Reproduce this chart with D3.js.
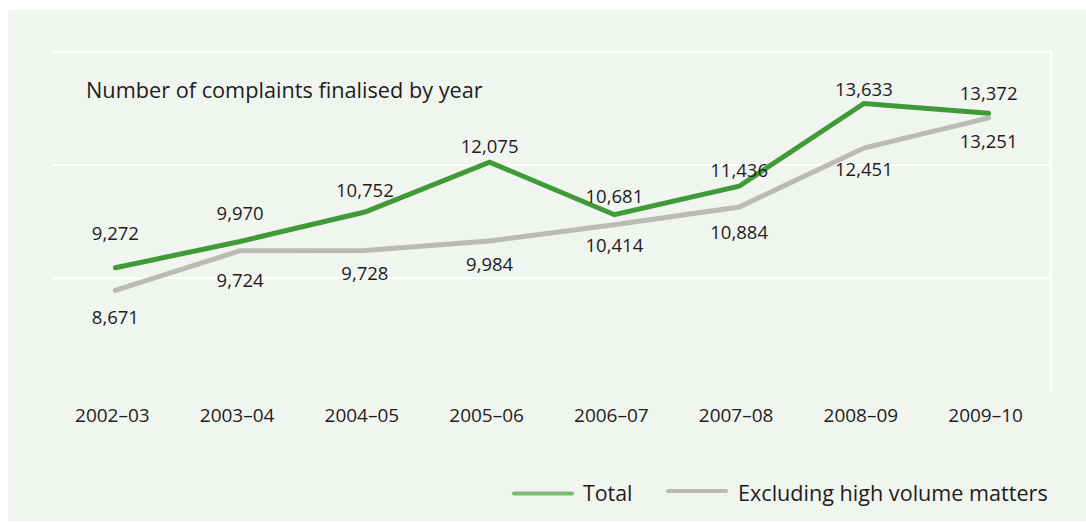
<!DOCTYPE html>
<html><head><meta charset="utf-8">
<script src="https://cdn.jsdelivr.net/npm/d3@7"></script>
<style>
html,body{margin:0;padding:0;background:#fff;}
svg{display:block;}
text{font-family:"Open Sans","Noto Sans",sans-serif;fill:#1f1c1d;}
</style></head>
<body>
<svg id="chart" width="1086" height="522"></svg>
<script>
const categories = ["2002–03","2003–04","2004–05","2005–06","2006–07","2007–08","2008–09","2009–10"];
const totalValues = [9272, 9970, 10752, 12075, 10681, 11436, 13633, 13372];
const excludingValues = [8671, 9724, 9728, 9984, 10414, 10884, 12451, 13251];
const yTicks = [6000, 9000, 12000, 15000];
const seriesNames = ["Total", "Excluding high volume matters"];
const chartTitle = "Number of complaints finalised by year";

// layout (label baselines relative to points, px)
const totalLabelDy = [-28, -21.5, -15.5, -9.5, -12, -9, -7.5, -13];
const exclLabelDy = [34, 36.5, 29, 30.5, 27, 31.5, 27.5, 30.5];

const svg = d3.select("#chart");
const W = 1086, H = 522;
const m = {left:53, right:1051, top:52, bottom:391};

svg.append("rect").attr("x",8).attr("y",10).attr("width",W-8).attr("height",H-11).attr("fill","#f1f5f0");

const x = d3.scaleBand().domain(categories).range([m.left, m.right]).padding(0);
const y = d3.scaleLinear().domain([6000, 15000]).range([m.bottom, m.top]);
const cx = c => x(c) + x.bandwidth()/2;

// gridlines
const grid = svg.append("g");
grid.selectAll("line.h").data(yTicks.filter(t=>t>6000)).enter().append("line")
  .attr("x1", m.left).attr("x2", m.right)
  .attr("y1", d=>y(d)).attr("y2", d=>y(d))
  .attr("stroke","#ffffff").attr("stroke-width",2.2);
grid.append("line").attr("x1",m.right).attr("x2",m.right).attr("y1",y(15000)-1).attr("y2",y(6000)+1)
  .attr("stroke","#ffffff").attr("stroke-width",2.2);

// x axis labels
const xAxis = d3.axisBottom(x).tickSize(0).tickPadding(0);
const ax = svg.append("g").attr("transform",`translate(0,${m.bottom})`).call(xAxis);
ax.select(".domain").remove();
ax.selectAll(".tick text").attr("y",30.5).attr("dy",0).attr("dx",-3)
  .style("font-size","19px").style("font-family",'"Open Sans","Noto Sans",sans-serif').attr("fill","#1f1c1d");

// lines
const line = d3.line().x((d,i)=>cx(categories[i])).y(d=>y(d));
svg.append("path").datum(excludingValues).attr("d",line).attr("fill","none")
  .attr("stroke","#bcbab7").attr("stroke-width",5).attr("stroke-linejoin","miter").attr("stroke-linecap","round");
svg.append("path").datum(totalValues).attr("d",line).attr("fill","none")
  .attr("stroke","#3f9a37").attr("stroke-width",5).attr("stroke-linejoin","miter").attr("stroke-linecap","round");

const fmt = d3.format(",");
svg.append("g").selectAll("text").data(totalValues).enter().append("text")
  .attr("x",(d,i)=>cx(categories[i])).attr("y",(d,i)=>y(d)+totalLabelDy[i])
  .attr("text-anchor","middle").style("font-size","18.5px").text(d=>fmt(d));
svg.append("g").selectAll("text").data(excludingValues).enter().append("text")
  .attr("x",(d,i)=>cx(categories[i])).attr("y",(d,i)=>y(d)+exclLabelDy[i])
  .attr("text-anchor","middle").style("font-size","18.5px").text(d=>fmt(d));

// title
svg.append("text").attr("x",86).attr("y",97.5).style("font-size","21.7px").text(chartTitle);

// legend
const leg = svg.append("g");
leg.append("line").attr("x1",514).attr("x2",572).attr("y1",493.5).attr("y2",493.5)
  .attr("stroke","#7dbb72").attr("stroke-width",4).attr("stroke-linecap","round");
leg.append("text").attr("x",583).attr("y",501).style("font-size","21.3px").text(seriesNames[0]);
leg.append("line").attr("x1",668).attr("x2",726).attr("y1",491).attr("y2",491)
  .attr("stroke","#bbbab5").attr("stroke-width",4).attr("stroke-linecap","round");
leg.append("text").attr("x",738).attr("y",501).style("font-size","21.6px").text(seriesNames[1]);
</script>
</body></html>
